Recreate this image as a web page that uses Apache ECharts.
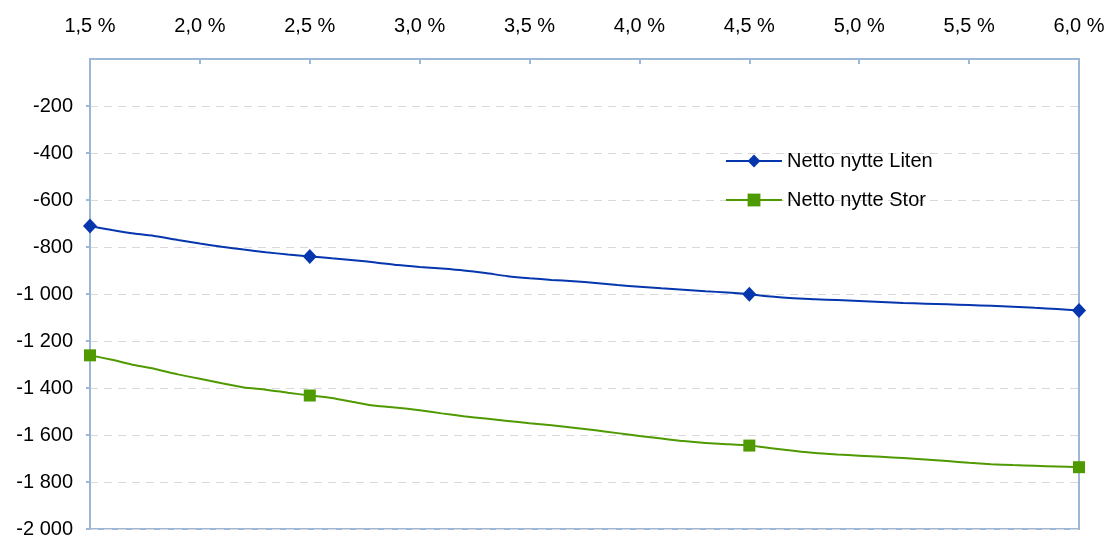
<!DOCTYPE html>
<html>
<head>
<meta charset="utf-8">
<script src="https://cdn.jsdelivr.net/npm/echarts@6/dist/echarts.min.js"></script>
<style>
  html, body { margin: 0; padding: 0; background: #ffffff; }
  #chart { width: 1109px; height: 536px; }
</style>
</head>
<body>
<div id="chart"></div>
<script>
// Interest rates (%) along the x axis
const rates = [1.5,1.6,1.7,1.8,1.9,2.0,2.1,2.2,2.3,2.4,2.5,2.6,2.7,2.8,2.9,3.0,3.1,3.2,3.3,3.4,3.5,3.6,3.7,3.8,3.9,4.0,4.1,4.2,4.3,4.4,4.5,4.6,4.7,4.8,4.9,5.0,5.1,5.2,5.3,5.4,5.5,5.6,5.7,5.8,5.9,6.0];
// Netto nytte Liten
const liten = [-711,-728,-743,-754,-770,-785,-799,-811,-822,-832,-840,-848,-856,-866,-877,-885,-892,-900,-911,-924,-933,-940,-946,-953,-962,-969,-976,-982,-988,-994,-1001,-1011,-1018,-1022,-1026,-1030,-1034,-1038,-1041,-1044,-1047,-1050,-1054,-1059,-1064,-1070];
// Netto nytte Stor
const stor = [-1261,-1280,-1302,-1320,-1342,-1361,-1380,-1398,-1407,-1420,-1432,-1443,-1460,-1476,-1484,-1495,-1508,-1520,-1530,-1540,-1550,-1559,-1569,-1580,-1592,-1604,-1615,-1626,-1634,-1639,-1645,-1656,-1667,-1677,-1683,-1688,-1693,-1698,-1704,-1711,-1718,-1724,-1728,-1731,-1734,-1737];
// Rates where a marker is drawn
const markerRates = [1.5, 2.5, 4.5, 6.0];
const seriesNames = ['Netto nytte Liten', 'Netto nytte Stor'];

const FONT = '"Liberation Sans", Arial, sans-serif';
const AXIS_COLOR = '#9db8d6';

function buildData(values) {
  return rates.map((r, i) => {
    const marked = markerRates.some(m => Math.abs(m - r) < 1e-9);
    return marked ? { value: [r, values[i]] } : { value: [r, values[i]], symbol: 'none' };
  });
}

function fmtThousands(v) {
  if (v === 0) return '';
  const s = Math.abs(v).toString().replace(/\B(?=(\d{3})+(?!\d))/g, ' ');
  return (v < 0 ? '-' : '') + s;
}

const chart = echarts.init(document.getElementById('chart'), null, { renderer: 'canvas' });
chart.setOption({
  animation: false,
  backgroundColor: '#ffffff',
  textStyle: { fontFamily: FONT },
  grid: {
    left: 90, right: 30, top: 59, bottom: 7,
    outerBoundsMode: 'none',
    containLabel: false,
    show: true, borderColor: AXIS_COLOR, borderWidth: 2, backgroundColor: 'transparent'
  },
  legend: {
    orient: 'vertical',
    left: 720, top: 146,
    itemWidth: 56, itemHeight: 16, itemGap: 19,
    textStyle: { fontFamily: FONT, fontSize: 20, color: '#000' },
    data: seriesNames
  },
  xAxis: {
    type: 'value',
    position: 'top',
    min: 1.5, max: 6.0, interval: 0.5,
    axisLine: { show: true, lineStyle: { color: AXIS_COLOR, width: 2 } },
    axisTick: { show: true, inside: true, length: 5, lineStyle: { color: AXIS_COLOR, width: 2 } },
    axisLabel: {
      margin: 23, fontSize: 20, color: '#000', fontFamily: FONT,
      formatter: v => v.toFixed(1).replace('.', ',') + ' %'
    },
    splitLine: { show: false }
  },
  yAxis: {
    type: 'value',
    min: -2000, max: 0, interval: 200,
    axisLine: { show: true, lineStyle: { color: AXIS_COLOR, width: 2 } },
    axisTick: { show: true, inside: false, length: 4, lineStyle: { color: AXIS_COLOR, width: 2 } },
    axisLabel: {
      margin: 17, fontSize: 20, color: '#000', fontFamily: FONT,
      showMaxLabel: false,
      formatter: fmtThousands
    },
    splitLine: { show: true, lineStyle: { color: '#d9d9d9', width: 1, type: [8, 6] } }
  },
  series: [
    {
      name: seriesNames[0],
      type: 'line',
      data: buildData(liten),
      symbol: 'diamond',
      symbolSize: [14, 15],
      color: '#0636ae',
      lineStyle: { width: 2, color: '#0636ae' },
      itemStyle: { color: '#0636ae' },
      smooth: 0.2,
      clip: false,
      z: 3
    },
    {
      name: seriesNames[1],
      type: 'line',
      data: buildData(stor),
      symbol: 'rect',
      symbolSize: 12,
      color: '#4f9a00',
      lineStyle: { width: 2, color: '#4f9a00' },
      itemStyle: { color: '#4f9a00' },
      smooth: 0.2,
      clip: false,
      z: 3
    }
  ]
});
</script>
</body>
</html>
